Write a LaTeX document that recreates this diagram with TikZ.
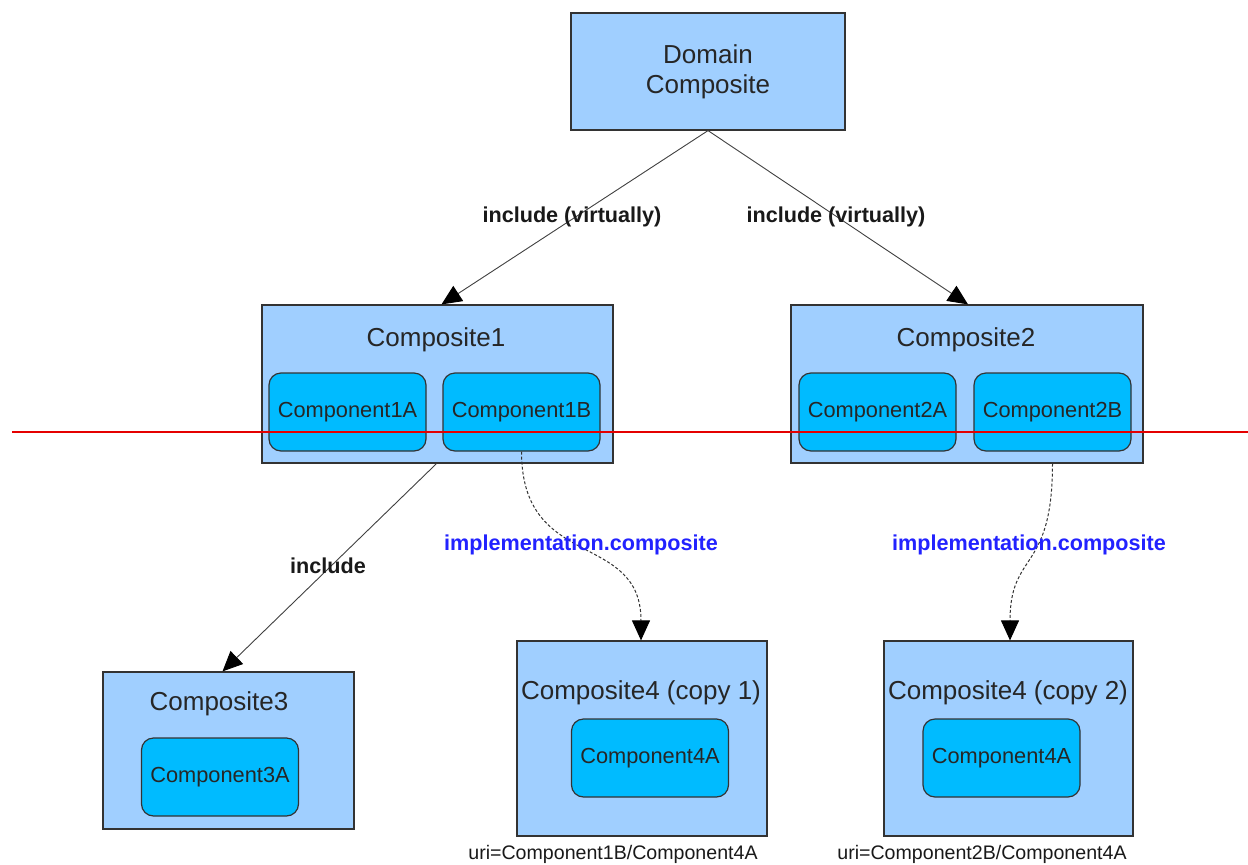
\documentclass[tikz,border=0pt]{standalone}
\usepackage{fontspec}
\setmainfont{Liberation Sans}
\usetikzlibrary{arrows.meta}
\definecolor{outerfill}{HTML}{A0CFFF}
\definecolor{innerfill}{HTML}{00BBFF}
\definecolor{edgegray}{HTML}{333333}
\definecolor{linkblue}{HTML}{2222FF}
\tikzset{
  outerbox/.style={draw=edgegray, line width=1.2pt, fill=outerfill, inner sep=0pt},
  innerbox/.style={draw=edgegray, line width=1.2pt, fill=innerfill, rounded corners=12pt,
     minimum width=157pt, minimum height=78pt, inner sep=0pt,
     font=\fontsize{21.8}{26}\selectfont, text=black!85},
  titletext/.style={font=\fontsize{26}{31}\selectfont, text=black!85, inner sep=0pt},
  edgelabel/.style={font=\bfseries\fontsize{21.6}{26}\selectfont, text=black!90, inner sep=0pt},
  implabel/.style={font=\bfseries\fontsize{21.6}{26}\selectfont, text=linkblue, inner sep=0pt},
  uritext/.style={font=\fontsize{19.6}{23}\selectfont, text=black!90, inner sep=0pt},
  conn/.style={draw=black!75, line width=0.9pt, -{Triangle[length=20pt,width=18pt,color=black]}},
  dashconn/.style={draw=black!80, line width=1pt, dash pattern=on 3pt off 2pt,
     -{Triangle[length=20pt,width=18pt,color=black]}},
}
\begin{document}
\begin{tikzpicture}[x=1pt,y=-1pt]
\useasboundingbox (0,0) rectangle (1248,865);
% Domain composite
\node[outerbox, minimum width=274pt, minimum height=117pt, align=center,
      font=\fontsize{26}{30}\selectfont, text=black!85] (dom) at (708,71.5) {Domain\\Composite};
% Composite1
\node[outerbox, minimum width=351pt, minimum height=158pt] (c1) at (437.5,384) {};
\node[titletext] (c1t) at (436,340) {Composite1};
\node[innerbox] (c1a) at (347.5,412) {Component1A};
\node[innerbox] (c1b) at (521.5,412) {Component1B};
% Composite2
\node[outerbox, minimum width=352pt, minimum height=158pt] (c2) at (967,384) {};
\node[titletext] (c2t) at (966,340) {Composite2};
\node[innerbox] (c2a) at (877.5,412) {Component2A};
\node[innerbox] (c2b) at (1052.5,412) {Component2B};
% Composite3
\node[outerbox, minimum width=251pt, minimum height=157pt] (c3) at (228.5,750.5) {};
\node[titletext] (c3t) at (219,704) {Composite3};
\node[innerbox] (c3a) at (220,777) {Component3A};
% Composite4 copy 1
\node[outerbox, minimum width=250pt, minimum height=195pt] (c4) at (642,738.5) {};
\node[titletext] (c4t) at (641,693) {Composite4 (copy 1)};
\node[innerbox] (c4a) at (650,758) {Component4A};
\node[uritext] (u1) at (613,854) {uri=Component1B/Component4A};
% Composite4 copy 2
\node[outerbox, minimum width=249pt, minimum height=195pt] (c5) at (1008.5,738.5) {};
\node[titletext] (c5t) at (1008,693) {Composite4 (copy 2)};
\node[innerbox] (c5a) at (1001.5,758) {Component4A};
\node[uritext] (u2) at (982,854) {uri=Component2B/Component4A};
% red line
\draw[red!90!black, line width=1.2pt] (12,432) -- (1248,432);
% connectors
\draw[conn] (dom.south) -- ([xshift=4pt]c1.north);
\draw[conn] (dom.south) -- ([xshift=1pt]c2.north);
\draw[conn] ([xshift=-1pt]c1.south) -- ([xshift=-6pt]c3.north);
\draw[dashconn] (c1b.south) .. controls +(0,120) and +(0,-110) .. ([xshift=-1pt]c4.north);
\draw[dashconn] (c2b.south |- c2.south) .. controls +(0,110) and +(0,-90) .. ([xshift=1.5pt]c5.north);
% labels
\node[edgelabel] (l1) at (572,217) {include (virtually)};
\node[edgelabel] (l2) at (836,217) {include (virtually)};
\node[edgelabel] (l3) at (328,566) {include};
\node[implabel] (l4) at (581,545) {implementation.composite};
\node[implabel] (l5) at (1029,545) {implementation.composite};
\end{tikzpicture}
\end{document}
